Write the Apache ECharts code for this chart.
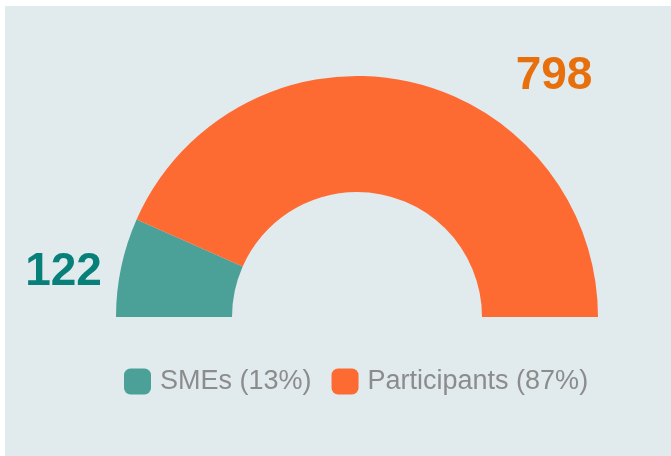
<!DOCTYPE html>
<html>
<head>
<meta charset="utf-8">
<script src="https://cdn.jsdelivr.net/npm/echarts@6/dist/echarts.min.js"></script>
<style>
    html, body { margin: 0; padding: 0; background: #ffffff; }
    #chart { position: absolute; left: 5px; top: 6px; width: 666px; height: 450px; }
</style>
</head>
<body>
<div id="chart"></div>
<script>
// 数据
var categories = ['SMEs', 'Participants'];
var values = [122, 798];
var sliceColors = ['#4ba197', '#fd6b33'];
var labelColors = ['#07807a', '#e8700c'];

var total = 0;
for (var i = 0; i < values.length; i++) {
    total += values[i];
}

var _data = [];
for (var i = 0; i < categories.length; i++) {
    _data.push({
        name: categories[i],
        value: values[i],
        itemStyle: { color: sliceColors[i] },
        label: { color: labelColors[i] }
    });
}
// 下半圆占位
_data.push({
    name: '',
    value: total,
    itemStyle: { color: 'none' },
    label: { show: false },
    labelLine: { show: false },
    emphasis: { disabled: true },
    tooltip: { show: false }
});

// label positions (px, inside the chart div)
var labelPos = [[58.5, 266], [549, 70]];

var chart = echarts.init(document.getElementById('chart'));
chart.setOption({
    backgroundColor: '#e1eaed',
    animation: false,
    textStyle: { fontFamily: 'Liberation Sans, Arial, sans-serif' },
    legend: {
        data: categories,
        left: 114,
        top: 357,
        itemWidth: 27,
        itemHeight: 26,
        itemGap: 20,
        icon: 'roundRect',
        textStyle: {
            fontSize: 27,
            color: '#8c8c8c',
            padding: [0, 0, 0, 4],
            fontFamily: 'Liberation Sans, Arial, sans-serif'
        },
        formatter: function(name) {
            var v = values[categories.indexOf(name)];
            return name + ' (' + Math.round(v / total * 100) + '%)';
        }
    },
    series: [{
        type: 'pie',
        center: [352, 311],
        radius: [125, 241],
        startAngle: 180,
        silent: true,
        label: {
            show: true,
            position: 'inside',
            overflow: 'none',
            formatter: '{c}',
            fontSize: 46,
            fontWeight: 'bold',
            fontFamily: 'Liberation Sans, Arial, sans-serif'
        },
        labelLine: { show: false },
        labelLayout: function(params) {
            var p = labelPos[params.dataIndex];
            if (!p) return {};
            return { x: p[0], y: p[1], align: 'center', verticalAlign: 'middle' };
        },
        data: _data
    }]
});
</script>
</body>
</html>
